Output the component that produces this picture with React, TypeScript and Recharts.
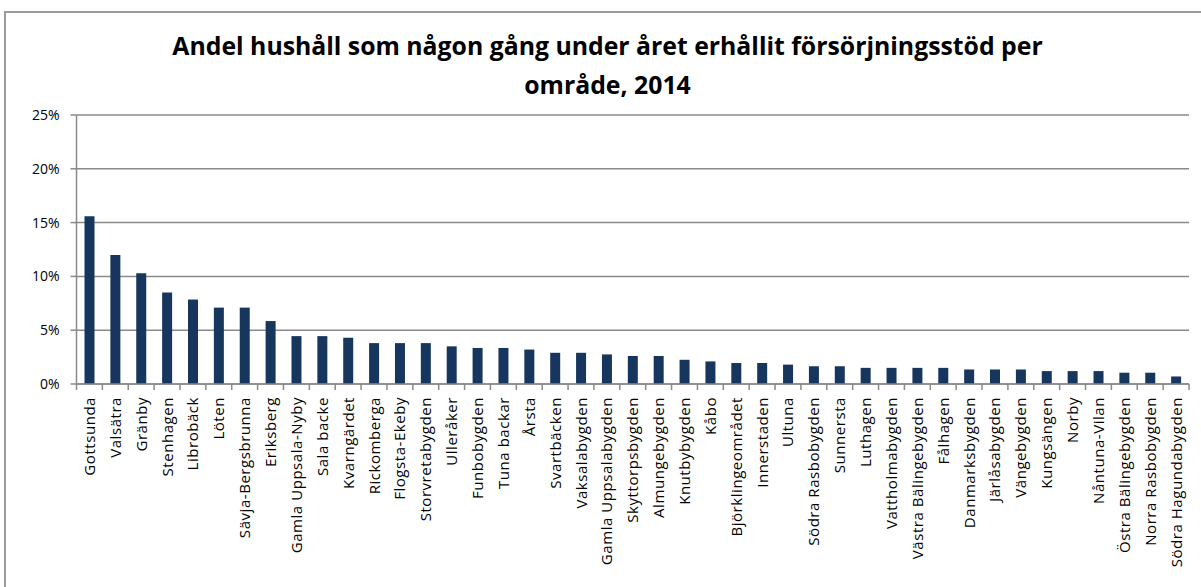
import React from "react";
import { BarChart, Bar, XAxis, YAxis, CartesianGrid } from "recharts";

// Områden, sorterade efter andel
const areas = [
  "Gottsunda", "Valsätra", "Gränby", "Stenhagen", "Librobäck", "Löten",
  "Sävja-Bergsbrunna", "Eriksberg", "Gamla Uppsala-Nyby", "Sala backe",
  "Kvarngärdet", "Rickomberga", "Flogsta-Ekeby", "Storvretabygden", "Ulleråker",
  "Funbobygden", "Tuna backar", "Årsta", "Svartbäcken", "Vaksalabygden",
  "Gamla Uppsalabygden", "Skyttorpsbygden", "Almungebygden", "Knutbybygden",
  "Kåbo", "Björklingeområdet", "Innerstaden", "Ultuna", "Södra Rasbobygden",
  "Sunnersta", "Luthagen", "Vattholmabygden", "Västra Bälingebygden", "Fålhagen",
  "Danmarksbygden", "Järlåsabygden", "Vängebygden", "Kungsängen", "Norby",
  "Nåntuna-Vilan", "Östra Bälingebygden", "Norra Rasbobygden", "Södra Hagundabygden",
];

// Andel hushåll (%)
const shares = [
  15.6, 12.0, 10.3, 8.5, 7.85, 7.1,
  7.1, 5.85, 4.45, 4.45,
  4.3, 3.8, 3.8, 3.8, 3.5,
  3.35, 3.35, 3.2, 2.9, 2.9,
  2.75, 2.6, 2.6, 2.25,
  2.1, 1.95, 1.95, 1.8, 1.65,
  1.65, 1.5, 1.5, 1.5, 1.5,
  1.35, 1.35, 1.35, 1.2, 1.2,
  1.2, 1.05, 1.05, 0.7,
];

const yTicks = [0, 5, 10, 15, 20, 25];

const titleLines = [
  "Andel hushåll som någon gång under året erhållit försörjningsstöd per",
  "område, 2014",
];

const data = areas.map((name, i) => ({ name, value: shares[i] }));

const GREY = "#8a8a8a";
const NAVY = "#17365D";
const FONT = '"Open Sans", sans-serif';

function AreaTick(props: any) {
  const { x, y, payload, index } = props;
  const half = payload?.offset ?? 13;
  const axisY = y - 13;
  return (
    <g>
      <line x1={x - half} x2={x - half} y1={axisY} y2={axisY + 6} stroke={GREY} strokeWidth={1.5} />
      {index === areas.length - 1 && (
        <line x1={x + half} x2={x + half} y1={axisY} y2={axisY + 6} stroke={GREY} strokeWidth={1.5} />
      )}
      <text
        transform={`translate(${x + 5.5},${y}) rotate(-90)`}
        textAnchor="end"
        fontSize={15}
        letterSpacing={0.55}
        fontFamily={FONT}
        fill="#000"
      >
        {payload.value}
      </text>
    </g>
  );
}

export default function App() {
  return (
    <div
      style={{
        position: "absolute",
        left: 0,
        top: 0,
        width: 1201,
        height: 587,
        overflow: "hidden",
        background: "#fff",
        fontFamily: FONT,
      }}
    >
      <div
        style={{
          position: "absolute",
          top: 26,
          left: 0,
          width: 1215,
          textAlign: "center",
          fontWeight: "bold",
          fontSize: 24.8,
          lineHeight: "39px",
          color: "#000",
        }}
      >
        {titleLines.map((t) => (
          <div key={t}>{t}</div>
        ))}
      </div>
      <BarChart
        style={{ position: "absolute", left: 0, top: 0 }}
        width={1201}
        height={587}
        data={data}
        margin={{ top: 115, right: 12, left: 0, bottom: 0 }}
      >
        <CartesianGrid vertical={false} stroke={GREY} strokeWidth={1.5} />
        <YAxis
          width={76.5}
          domain={[0, 25]}
          ticks={yTicks}
          interval={0}
          tickFormatter={(v) => `${v}%`}
          tickSize={6}
          tickMargin={11}
          axisLine={{ stroke: GREY, strokeWidth: 1.5 }}
          tickLine={{ stroke: GREY, strokeWidth: 1.5 }}
          tick={{ fill: "#000", fontSize: 14, fontFamily: FONT }}
        />
        <XAxis
          dataKey="name"
          height={203}
          interval={0}
          tickSize={6}
          tickMargin={7}
          tickLine={false}
          axisLine={{ stroke: GREY, strokeWidth: 1.5 }}
          tick={<AreaTick />}
        />
        <Bar dataKey="value" fill={NAVY} barSize={10} isAnimationActive={false} />
      </BarChart>
      <div
        style={{
          position: "absolute",
          left: 4,
          top: 11,
          width: 1300,
          height: 700,
          border: "2px solid #9a9a9a",
          pointerEvents: "none",
          zIndex: 2,
        }}
      />
    </div>
  );
}
